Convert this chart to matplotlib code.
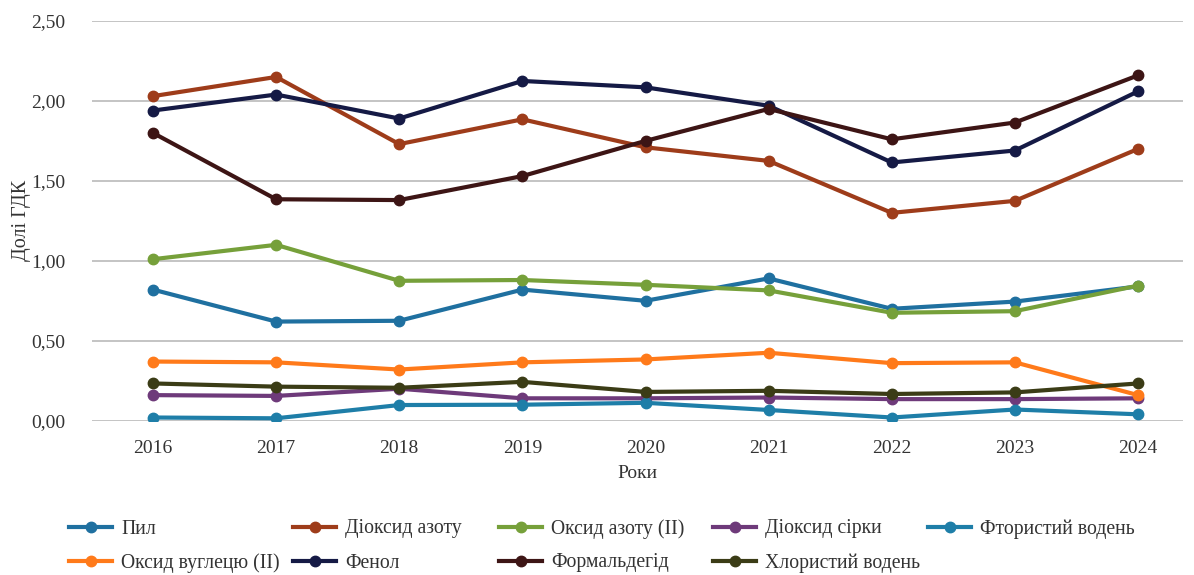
import matplotlib
matplotlib.use("Agg")
import matplotlib.pyplot as plt
from matplotlib.lines import Line2D
from matplotlib.ticker import FuncFormatter

plt.rcParams["font.family"] = ["Liberation Serif", "DejaVu Serif"]

# Data
years = [2016, 2017, 2018, 2019, 2020, 2021, 2022, 2023, 2024]

pyl = [0.82, 0.62, 0.625, 0.82, 0.75, 0.89, 0.70, 0.745, 0.84]
dioksyd_azotu = [2.03, 2.15, 1.73, 1.885, 1.71, 1.625, 1.30, 1.375, 1.70]
oksyd_azotu = [1.01, 1.10, 0.875, 0.88, 0.85, 0.815, 0.675, 0.685, 0.845]
dioksyd_sirky = [0.16, 0.155, 0.20, 0.14, 0.14, 0.145, 0.135, 0.135, 0.14]
ftorystyi_voden = [0.02, 0.015, 0.098, 0.10, 0.112, 0.067, 0.02, 0.07, 0.04]
oksyd_vuhletsiu = [0.37, 0.365, 0.32, 0.365, 0.383, 0.425, 0.36, 0.365, 0.16]
fenol = [1.94, 2.04, 1.89, 2.125, 2.085, 1.97, 1.615, 1.69, 2.06]
formaldehid = [1.80, 1.385, 1.38, 1.53, 1.75, 1.95, 1.76, 1.865, 2.16]
khlorystyi_voden = [0.233, 0.213, 0.206, 0.243, 0.18, 0.187, 0.167, 0.177, 0.233]

series = [
    ("Пил", pyl, "#1f70a0"),
    ("Діоксид азоту", dioksyd_azotu, "#9e3c1a"),
    ("Оксид азоту (II)", oksyd_azotu, "#76a03a"),
    ("Діоксид сірки", dioksyd_sirky, "#6e3a7a"),
    ("Фтористий водень", ftorystyi_voden, "#1e7ea8"),
    ("Оксид вуглецю (II)", oksyd_vuhletsiu, "#ff7a1a"),
    ("Фенол", fenol, "#151a45"),
    ("Формальдегід", formaldehid, "#3d1515"),
    ("Хлористий водень", khlorystyi_voden, "#3b3c16"),
]

text_color = "#333333"

fig = plt.figure(figsize=(11.94, 5.75), dpi=100)
ax = fig.add_axes([92 / 1194, 1 - 420.7 / 575, (1183 - 92) / 1194, (420.7 - 21) / 575])

handles = []
for name, vals, color in series:
    line, = ax.plot(years, vals, color=color, linewidth=3, marker="o",
                    markersize=7.5, label=name, solid_capstyle="round")
    handles.append(line)

ax.set_xlim(2015.505, 2024.365)
ax.set_ylim(0, 2.5)
ax.set_yticks([0, 0.5, 1.0, 1.5, 2.0, 2.5])
ax.yaxis.set_major_formatter(FuncFormatter(lambda v, p: f"{v:.2f}".replace(".", ",")))
ax.set_xticks(years)

ax.grid(axis="y", color="#bfbfbf", linewidth=1.3)
ax.set_axisbelow(True)
for s in ax.spines.values():
    s.set_visible(False)
ax.tick_params(axis="both", length=0, labelsize=14, labelcolor=text_color)
ax.tick_params(axis="y", pad=19)
ax.tick_params(axis="x", pad=14)

ax.set_xlabel("Роки", fontsize=14, color=text_color, labelpad=6)
ax.set_ylabel("Долі ГДК", fontsize=14.5, color=text_color, labelpad=0)

# Legend: columns at fixed positions like the original
col_x = [69, 293, 499, 713, 928]
row_y = [529, 563]
layout = [[0, 5], [1, 6], [2, 7], [3, 8], [4]]
for cx, idxs in zip(col_x, layout):
    for r, i in enumerate(idxs):
        h = handles[i]
        proxy = Line2D([], [], color=h.get_color(), linewidth=3, marker="o",
                       markersize=7.5)
        leg = fig.legend([proxy], [series[i][0]], loc="center left",
                         bbox_to_anchor=(cx / 1194, 1 - row_y[r] / 575),
                         frameon=False, fontsize=14.2, handlelength=2.2,
                         handletextpad=0.45, borderpad=0, borderaxespad=0)
        for t in leg.get_texts():
            t.set_color(text_color)

fig.savefig("out.png", dpi=100)
